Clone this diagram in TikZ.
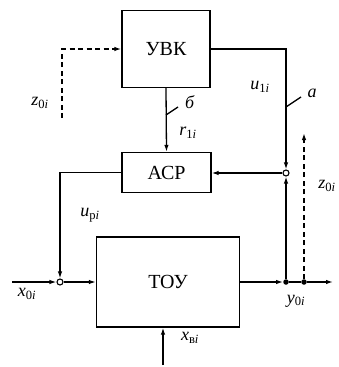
\documentclass[tikz,border=0pt]{standalone}
\usepackage{fontspec}
\setmainfont{Liberation Serif}
\usetikzlibrary{arrows.meta}
\newcommand{\vr}[2]{\textit{#1}\textsubscript{#2\textit{i}}}
\begin{document}
\begin{tikzpicture}[x=1pt,y=-1pt,
  blk/.style={draw,line width=1.3pt,inner sep=0pt,font=\fontsize{20}{23}\selectfont},
  lbl/.style={inner sep=0pt,font=\fontsize{18}{21}\selectfont},
  ln/.style={line width=1.3pt},
  arr/.style={line width=1.3pt,-{Latex[length=7pt,width=4.5pt]}},
  dsh/.style={line width=1.5pt,dash pattern=on 5pt off 3.5pt,-{Latex[length=7pt,width=4.5pt]}},
  circ/.style={circle,draw,line width=1.1pt,fill=white,inner sep=0pt,minimum size=6pt},
  dotn/.style={circle,fill=black,inner sep=0pt,minimum size=5.5pt}]
\useasboundingbox (0,0) rectangle (339,367);
\node[blk,minimum width=88pt,minimum height=77pt] (uvk) at (166,49) {УВК};
\node[blk,minimum width=89pt,minimum height=40pt] (acr) at (166.5,172.5) {АСР};
\node[blk,minimum width=143pt,minimum height=90pt] (tou) at (168,282) {ТОУ};
\node[circ] (c1) at (286,173) {};
\node[circ] (c2) at (60,282) {};
\node[dotn] (d1) at (286,282) {};
\node[dotn] (d2) at (304,282) {};
\coordinate (xin) at (12,282);
\coordinate (xout) at (333,282);
\coordinate (xv) at (163,365);
\coordinate (zl) at (62,118);
\coordinate (zr) at (304,133);
% connectors
\draw[arr] (uvk.east) -| (c1);
\draw[arr] (uvk.south) -- (acr.north);
\draw[arr] (d1) -- (c1);
\draw[arr] (c1) -- (c1 -| acr.east);
\draw[arr] (acr.west) -| (c2);
\draw[arr] (xin) -- (c2);
\draw[arr] (c2) -- (tou.west);
\draw[arr] (tou.east) -- (d1);
\draw[ln] (d1) -- (d2);
\draw[arr] (d2) -- (xout);
\draw[arr] (xv) -- (xv |- tou.south);
\draw[dsh] (zl) |- (uvk.west);
\draw[dsh] (d2) -- (zr);
% leader ticks
\draw[ln] (286,107) -- (301,97);
\draw[ln] (166,115) -- (178,107);
% labels
\node[lbl] (la) at (312,93) {\textit{а}};
\node[lbl] (lb) at (190,102) {\textit{б}};
\node[lbl] (lu1) at (260,87) {\vr{u}{1}};
\node[lbl] (lzl) at (40,103) {\vr{z}{0}};
\node[lbl] (lr1) at (188,133) {\vr{r}{1}};
\node[lbl] (lup) at (90,215) {\vr{u}{р}};
\node[lbl] (lzr) at (327,186) {\vr{z}{0}};
\node[lbl] (lx0) at (27,294) {\vr{x}{0}};
\node[lbl] (ly0) at (296,301) {\vr{y}{0}};
\node[lbl] (lxv) at (190,338) {\vr{x}{в}};
\end{tikzpicture}
\end{document}
